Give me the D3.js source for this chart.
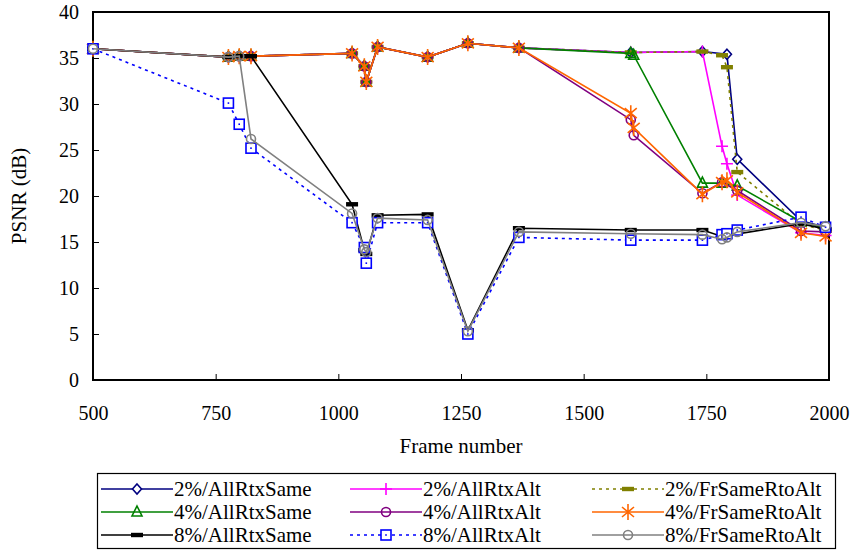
<!DOCTYPE html>
<html>
<head>
<meta charset="utf-8">
<script src="https://cdn.jsdelivr.net/npm/d3@7"></script>
<style>
body { margin: 0; background: #fff; }
</style>
</head>
<body>
<div id="chart"></div>
<script>
var width = 854;
var height = 552;
var serif = "Liberation Serif, Times New Roman, Times, serif";

// frame numbers where measurements were taken
var frames = [500, 776, 798, 822, 1028, 1053, 1057, 1080, 1182, 1264, 1368, 1596, 1602, 1742, 1782, 1792, 1813, 1943, 1993];
var xTicks = [500, 750, 1000, 1250, 1500, 1750, 2000];
var yTicks = [0, 5, 10, 15, 20, 25, 30, 35, 40];

// PSNR values (dB), null = no sample for that series
var psnr2Same  = [36.0, 35.1, 35.2, 35.2, 35.5, 34.1, 32.4, 36.2, 35.1, 36.6, 36.1, 35.6, null, 35.7, null, 35.4, 24.0, 17.3, 16.6];
var psnr2Alt   = [36.0, 35.1, 35.2, 35.2, 35.5, 34.1, 32.4, 36.2, 35.1, 36.6, 36.1, 35.6, null, 35.7, 25.4, 23.5, 20.1, 16.0, 15.7];
var psnr2FrSame= [36.0, 35.1, 35.2, 35.2, 35.5, 34.1, 32.4, 36.2, 35.1, 36.6, 36.1, 35.6, null, 35.7, 35.3, 34.0, 22.6, 16.9, 16.3];
var psnr4Same  = [36.0, 35.1, 35.2, 35.2, 35.5, 34.1, 32.4, 36.2, 35.1, 36.6, 36.1, 35.5, 35.3, 21.4, 21.4, null, 21.1, 17.2, 16.5];
var psnr4Alt   = [36.0, 35.1, 35.2, 35.2, 35.5, 34.1, 32.4, 36.2, 35.1, 36.6, 36.1, 28.3, 26.6, 20.3, 21.5, null, 20.6, 16.2, 16.1];
var psnr4FrSame= [36.0, 35.1, 35.2, 35.2, 35.5, 34.1, 32.4, 36.2, 35.1, 36.6, 36.1, 29.0, 27.4, 20.2, 21.5, 21.7, 20.4, 16.0, 15.6];
var psnr8Same  = [36.0, 35.1, 35.2, 35.2, 19.1, 14.1, 13.7, 17.9, 18.0, 5.4, 16.5, 16.3, null, 16.3, 15.6, null, null, 17.0, 16.4];
var psnr8Alt   = [36.0, 30.1, 27.8, 25.2, 17.1, 14.4, 12.7, 17.1, 17.1, 5.0, 15.5, 15.2, null, 15.2, 15.8, 15.9, 16.3, 17.7, 16.6];
var psnr8FrSame= [36.0, 35.1, 35.2, 26.2, 18.1, 14.2, 13.9, 17.6, 17.4, 5.3, 16.1, 15.9, null, 15.8, 15.3, 15.5, 16.1, 17.1, 16.7];

var seriesNames = ["2%/AllRtxSame", "2%/AllRtxAlt", "2%/FrSameRtoAlt",
                   "4%/AllRtxSame", "4%/AllRtxAlt", "4%/FrSameRtoAlt",
                   "8%/AllRtxSame", "8%/AllRtxAlt", "8%/FrSameRtoAlt"];
var seriesValues = [psnr2Same, psnr2Alt, psnr2FrSame, psnr4Same, psnr4Alt, psnr4FrSame, psnr8Same, psnr8Alt, psnr8FrSame];
var seriesStyle = [
    {color: "#000080", marker: "diamond", dash: null},
    {color: "#ff00ff", marker: "plus", dash: null},
    {color: "#808000", marker: "bar", dash: "3,4"},
    {color: "#008000", marker: "triangle", dash: null},
    {color: "#800080", marker: "circle", dash: null},
    {color: "#ff6600", marker: "asterisk", dash: null},
    {color: "#000000", marker: "bar", dash: null},
    {color: "#0000ff", marker: "square", dash: "3,4"},
    {color: "#808080", marker: "circle", dash: null}
];

var margin = {left: 93, top: 12, right: 25, bottom: 172};
var plotW = width - margin.left - margin.right;
var plotH = height - margin.top - margin.bottom;

var xScale = d3.scaleLinear().domain([500, 2000]).range([0, plotW]);
var yScale = d3.scaleLinear().domain([0, 40]).range([plotH, 0]);

var svg = d3.select("#chart").append("svg")
    .attr("width", width)
    .attr("height", height)
    .attr("font-family", serif);

var g = svg.append("g").attr("transform", "translate(" + margin.left + "," + margin.top + ")");

// axes, ticks pointing inward
var xAxis = g.append("g")
    .attr("transform", "translate(0," + plotH + ")")
    .call(d3.axisBottom(xScale).tickValues(xTicks).tickSize(-6).tickPadding(26).tickFormat(d3.format("d")));
var yAxis = g.append("g")
    .call(d3.axisLeft(yScale).tickValues(yTicks).tickSize(-6).tickPadding(14));

[xAxis, yAxis].forEach(function(a) {
    a.attr("font-family", serif);
    a.select(".domain").remove();
    a.selectAll(".tick line").attr("stroke", "#000");
    a.selectAll(".tick text").attr("font-size", 20).attr("fill", "#000");
});

g.append("rect")
    .attr("width", plotW)
    .attr("height", plotH)
    .attr("fill", "none")
    .attr("stroke", "#000")
    .attr("stroke-width", 2);

svg.append("text")
    .attr("x", margin.left + plotW / 2)
    .attr("y", 453)
    .attr("text-anchor", "middle")
    .attr("font-size", 21)
    .text("Frame number");

svg.append("text")
    .attr("transform", "translate(26," + (margin.top + plotH / 2) + ") rotate(-90)")
    .attr("text-anchor", "middle")
    .attr("font-size", 21)
    .text("PSNR (dB)");

function drawMarker(sel, type, color) {
    if (type === "diamond") {
        sel.append("path").attr("d", "M0,-5L4.5,0L0,5L-4.5,0Z")
            .attr("fill", "#fff").attr("stroke", color).attr("stroke-width", 1.6);
    } else if (type === "plus") {
        sel.append("path").attr("d", "M-6,0H6M0,-6V6")
            .attr("stroke", color).attr("stroke-width", 1.6);
    } else if (type === "bar") {
        sel.append("rect").attr("x", -6).attr("y", -2.2).attr("width", 12).attr("height", 4.4)
            .attr("fill", color);
    } else if (type === "triangle") {
        sel.append("path").attr("d", "M0,-6L5,4L-5,4Z")
            .attr("fill", "none").attr("stroke", color).attr("stroke-width", 1.6);
    } else if (type === "circle") {
        sel.append("circle").attr("r", 4.5)
            .attr("fill", "none").attr("stroke", color).attr("stroke-width", 1.6);
    } else if (type === "asterisk") {
        sel.append("path").attr("d", "M0,-8V8M-6,-5L6,5M-6,5L6,-5")
            .attr("stroke", color).attr("stroke-width", 1.6);
    } else if (type === "square") {
        sel.append("rect").attr("x", -5).attr("y", -5).attr("width", 10).attr("height", 10)
            .attr("fill", "#fff").attr("stroke", color).attr("stroke-width", 1.6);
        sel.append("rect").attr("x", -0.8).attr("y", -0.8).attr("width", 1.6).attr("height", 1.6)
            .attr("fill", color);
    }
}

var line = d3.line()
    .x(function(d) { return xScale(d.f); })
    .y(function(d) { return yScale(d.v); });

seriesValues.forEach(function(vals, i) {
    var st = seriesStyle[i];
    var pts = [];
    vals.forEach(function(v, j) {
        if (v !== null) pts.push({f: frames[j], v: v});
    });
    var sg = g.append("g").attr("class", "series");
    sg.append("path")
        .datum(pts)
        .attr("d", line)
        .attr("fill", "none")
        .attr("stroke", st.color)
        .attr("stroke-width", 1.6)
        .attr("stroke-dasharray", st.dash);
    sg.selectAll(".pt")
        .data(pts)
        .enter()
        .append("g")
        .attr("class", "pt")
        .attr("transform", function(d) { return "translate(" + xScale(d.f) + "," + yScale(d.v) + ")"; })
        .each(function() { drawMarker(d3.select(this), st.marker, st.color); });
});

// legend
var legend = svg.append("g");
legend.append("rect")
    .attr("x", 97.5).attr("y", 473.5)
    .attr("width", 738).attr("height", 75)
    .attr("fill", "#fff").attr("stroke", "#000").attr("stroke-width", 1.2);

var colX = [101, 350, 592];
var rowY = [489, 512, 535];
seriesNames.forEach(function(name, i) {
    var st = seriesStyle[i];
    var lx = colX[i % 3], ly = rowY[Math.floor(i / 3)];
    var lg = legend.append("g").attr("transform", "translate(" + lx + "," + ly + ")");
    lg.append("line")
        .attr("x1", 0).attr("x2", 72)
        .attr("stroke", st.color).attr("stroke-width", 1.6)
        .attr("stroke-dasharray", st.dash);
    var m = lg.append("g").attr("transform", "translate(36,0)");
    drawMarker(m, st.marker, st.color);
    lg.append("text")
        .attr("x", 73).attr("y", 7)
        .attr("font-size", 21)
        .text(name);
});
</script>
</body>
</html>
